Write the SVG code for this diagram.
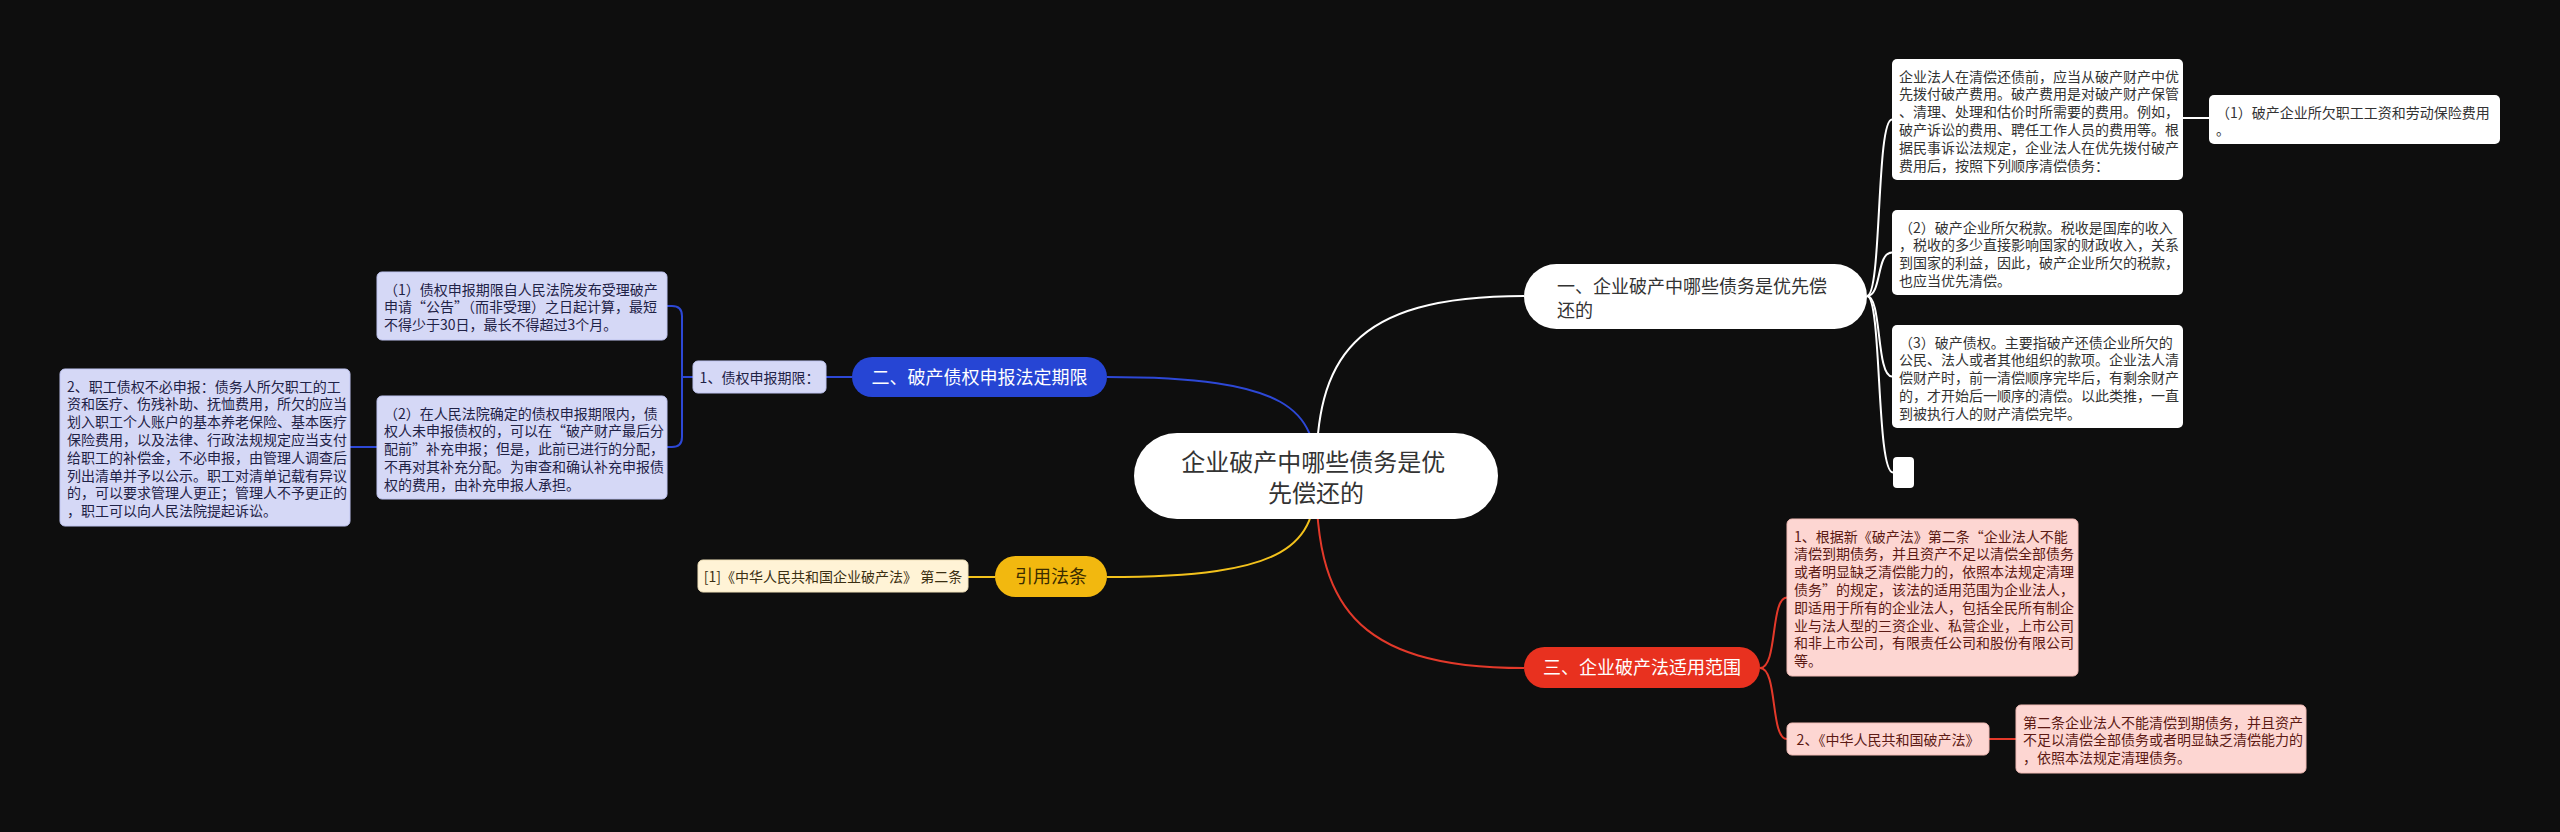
<svg xmlns="http://www.w3.org/2000/svg" width="2560" height="832" viewBox="0 0 2560 832">
<style>
text{font-family:"Noto Sans CJK SC","Noto Sans",sans-serif}
.s{font-size:14px}
.m{font-size:18px}
.c{font-size:24px;fill:#333333}
.mid{text-anchor:middle}
.wbox{fill:#ffffff}
.wt{fill:#333333}
.bbox{fill:#d5d8f6;stroke:#bfc4f0;stroke-width:1}
.bt{fill:#1f2246}
.rbox{fill:#fdd6d2;stroke:#f2bcb6;stroke-width:1}
.rt{fill:#5c1a14}
.ybox{fill:#fff3d6;stroke:#f1e2bb;stroke-width:1}
.yt{fill:#3b2f12}
.ln{fill:none;stroke-width:2}
.lw{stroke:#ffffff}
.lb{stroke:#2d48d6}
.ly{stroke:#f3c21c}
.lr{stroke:#e3392a}
</style>
<rect x="0" y="0" width="2560" height="832" fill="#0e0e0e"/>

<g id="connectors">
  <path class="ln lw" stroke-width="2.5" d="M1316 476 C1316 360 1350 296 1524 296"/>
  <path class="ln lb" stroke-width="2.5" d="M1316 476 C1316 410 1290 377 1107 377"/>
  <path class="ln ly" stroke-width="2.5" d="M1316 476 C1316 545 1290 577 1107 577"/>
  <path class="ln lr" stroke-width="2.5" d="M1316 476 C1316 600 1350 668 1524 668"/>
  <path class="ln lw" d="M1867 296 C1882 296 1876 119.5 1892 119.5"/>
  <path class="ln lw" d="M1867 296 C1882 296 1876 252.5 1892 252.5"/>
  <path class="ln lw" d="M1867 296 C1882 296 1876 376.5 1892 376.5"/>
  <path class="ln lw" d="M1867 296 C1882 296 1876 472.5 1893 472.5"/>
  <path class="ln lw" d="M2183 118 H2209"/>
  <path class="ln lb" d="M852 377 H826"/>
  <path class="ln lb" d="M693 377 H682 V316 Q682 306 672 306 H667"/>
  <path class="ln lb" d="M682 377 V437 Q682 447 672 447 H667"/>
  <path class="ln lb" d="M377 447 H350"/>
  <path class="ln ly" d="M995 577 H968"/>
  <path class="ln lr" d="M1760 668 C1778 668 1770 597.5 1787 597.5"/>
  <path class="ln lr" d="M1760 668 C1778 668 1770 739 1787 739"/>
  <path class="ln lr" d="M1989 739 H2016"/>
</g>

<g id="center">
  <rect x="1134" y="433" width="364" height="86" rx="43" fill="#ffffff"/>
  <text class="c mid">
    <tspan x="1316" y="471">企业破产中哪些债务是优</tspan>
    <tspan x="1316" y="502">先偿还的</tspan>
  </text>
</g>

<g id="branch1">
  <rect x="1524" y="264" width="343" height="65" rx="32.5" fill="#ffffff"/>
  <text class="m wt">
    <tspan x="1557" y="292.5">一、企业破产中哪些债务是优先偿</tspan>
    <tspan x="1557" y="317">还的</tspan>
  </text>
</g>

<g id="b1-a">
  <rect class="wbox" x="1892" y="59" width="291" height="121" rx="5"/>
  <text class="s wt">
    <tspan x="1899" y="81.5">企业法人在清偿还债前，应当从破产财产中优</tspan>
    <tspan x="1899" y="99.3">先拨付破产费用。破产费用是对破产财产保管</tspan>
    <tspan x="1899" y="117.1">、清理、处理和估价时所需要的费用。例如，</tspan>
    <tspan x="1899" y="134.9">破产诉讼的费用、聘任工作人员的费用等。根</tspan>
    <tspan x="1899" y="152.7">据民事诉讼法规定，企业法人在优先拨付破产</tspan>
    <tspan x="1899" y="170.5">费用后，按照下列顺序清偿债务：</tspan>
  </text>
</g>

<g id="b1-a1">
  <rect class="wbox" x="2209" y="95" width="291" height="49" rx="5"/>
  <text class="s wt">
    <tspan x="2216" y="117.5">（1）破产企业所欠职工工资和劳动保险费用</tspan>
    <tspan x="2216" y="135.3">。</tspan>
  </text>
</g>

<g id="b1-b">
  <rect class="wbox" x="1892" y="210" width="291" height="85" rx="5"/>
  <text class="s wt">
    <tspan x="1899" y="232.5">（2）破产企业所欠税款。税收是国库的收入</tspan>
    <tspan x="1899" y="250.3">，税收的多少直接影响国家的财政收入，关系</tspan>
    <tspan x="1899" y="268.1">到国家的利益，因此，破产企业所欠的税款，</tspan>
    <tspan x="1899" y="285.9">也应当优先清偿。</tspan>
  </text>
</g>

<g id="b1-c">
  <rect class="wbox" x="1892" y="325" width="291" height="103" rx="5"/>
  <text class="s wt">
    <tspan x="1899" y="347.5">（3）破产债权。主要指破产还债企业所欠的</tspan>
    <tspan x="1899" y="365.3">公民、法人或者其他组织的款项。企业法人清</tspan>
    <tspan x="1899" y="383.1">偿财产时，前一清偿顺序完毕后，有剩余财产</tspan>
    <tspan x="1899" y="400.9">的，才开始后一顺序的清偿。以此类推，一直</tspan>
    <tspan x="1899" y="418.7">到被执行人的财产清偿完毕。</tspan>
  </text>
</g>

<g id="b1-d">
  <rect class="wbox" x="1893" y="457" width="21" height="31" rx="4"/>
</g>

<g id="branch2">
  <rect x="852" y="357" width="255" height="40" rx="20" fill="#2645d4"/>
  <text class="m mid" x="979.5" y="383.5" fill="#ffffff">二、破产债权申报法定期限</text>
</g>

<g id="b2-1">
  <rect class="bbox" x="693" y="361" width="133" height="32" rx="5"/>
  <text class="s bt mid" x="759.5" y="382.5">1、债权申报期限：</text>
</g>

<g id="b2-1a">
  <rect class="bbox" x="377" y="272" width="290" height="68" rx="5"/>
  <text class="s bt">
    <tspan x="384" y="294.5">（1）债权申报期限自人民法院发布受理破产</tspan>
    <tspan x="384" y="312.3">申请“公告”（而非受理）之日起计算，最短</tspan>
    <tspan x="384" y="330.1">不得少于30日，最长不得超过3个月。</tspan>
  </text>
</g>

<g id="b2-1b">
  <rect class="bbox" x="377" y="396" width="290" height="103" rx="5"/>
  <text class="s bt">
    <tspan x="384" y="418.5">（2）在人民法院确定的债权申报期限内，债</tspan>
    <tspan x="384" y="436.3">权人未申报债权的，可以在“破产财产最后分</tspan>
    <tspan x="384" y="454.1">配前”补充申报；但是，此前已进行的分配，</tspan>
    <tspan x="384" y="471.9">不再对其补充分配。为审查和确认补充申报债</tspan>
    <tspan x="384" y="489.7">权的费用，由补充申报人承担。</tspan>
  </text>
</g>

<g id="b2-2">
  <rect class="bbox" x="60" y="369" width="290" height="157" rx="5"/>
  <text class="s bt">
    <tspan x="67" y="391.5">2、职工债权不必申报：债务人所欠职工的工</tspan>
    <tspan x="67" y="409.3">资和医疗、伤残补助、抚恤费用，所欠的应当</tspan>
    <tspan x="67" y="427.1">划入职工个人账户的基本养老保险、基本医疗</tspan>
    <tspan x="67" y="444.9">保险费用，以及法律、行政法规规定应当支付</tspan>
    <tspan x="67" y="462.7">给职工的补偿金，不必申报，由管理人调查后</tspan>
    <tspan x="67" y="480.5">列出清单并予以公示。职工对清单记载有异议</tspan>
    <tspan x="67" y="498.3">的，可以要求管理人更正；管理人不予更正的</tspan>
    <tspan x="67" y="516.1">，职工可以向人民法院提起诉讼。</tspan>
  </text>
</g>

<g id="branch-cite">
  <rect x="995" y="556" width="112" height="41" rx="20.5" fill="#f2b80f"/>
  <text class="m mid" x="1051" y="583" fill="#3b2c00">引用法条</text>
</g>

<g id="cite-1">
  <rect class="ybox" x="698" y="560" width="270" height="32" rx="5"/>
  <text class="s yt mid" x="833" y="581.5">[1]《中华人民共和国企业破产法》 第二条</text>
</g>

<g id="branch3">
  <rect x="1524" y="647" width="236" height="41" rx="20.5" fill="#e8311f"/>
  <text class="m mid" x="1642" y="674" fill="#ffffff">三、企业破产法适用范围</text>
</g>

<g id="b3-1">
  <rect class="rbox" x="1787" y="519" width="291" height="157" rx="5"/>
  <text class="s rt">
    <tspan x="1794" y="541.5">1、根据新《破产法》第二条“企业法人不能</tspan>
    <tspan x="1794" y="559.3">清偿到期债务，并且资产不足以清偿全部债务</tspan>
    <tspan x="1794" y="577.1">或者明显缺乏清偿能力的，依照本法规定清理</tspan>
    <tspan x="1794" y="594.9">债务”的规定，该法的适用范围为企业法人，</tspan>
    <tspan x="1794" y="612.7">即适用于所有的企业法人，包括全民所有制企</tspan>
    <tspan x="1794" y="630.5">业与法人型的三资企业、私营企业，上市公司</tspan>
    <tspan x="1794" y="648.3">和非上市公司，有限责任公司和股份有限公司</tspan>
    <tspan x="1794" y="666.1">等。</tspan>
  </text>
</g>

<g id="b3-2">
  <rect class="rbox" x="1787" y="723" width="202" height="32" rx="5"/>
  <text class="s rt mid" x="1888" y="744.5">2、《中华人民共和国破产法》</text>
</g>

<g id="b3-2a">
  <rect class="rbox" x="2016" y="705" width="290" height="68" rx="5"/>
  <text class="s rt">
    <tspan x="2023" y="727.5">第二条企业法人不能清偿到期债务，并且资产</tspan>
    <tspan x="2023" y="745.3">不足以清偿全部债务或者明显缺乏清偿能力的</tspan>
    <tspan x="2023" y="763.1">，依照本法规定清理债务。</tspan>
  </text>
</g>
</svg>
